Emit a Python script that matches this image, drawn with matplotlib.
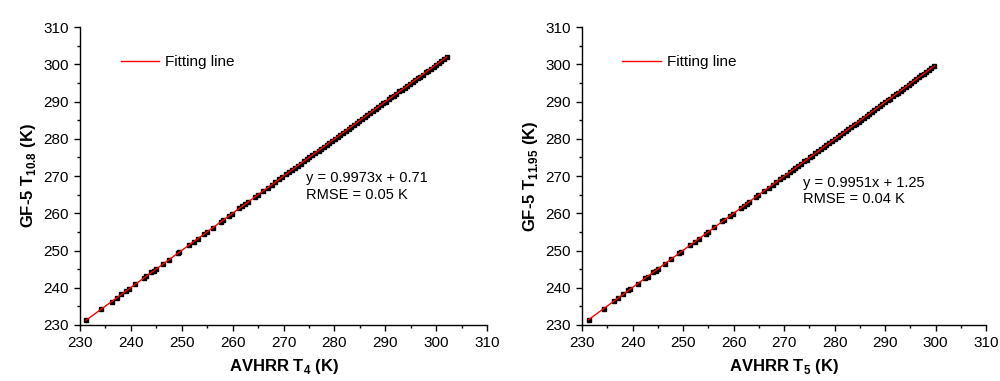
import matplotlib
matplotlib.use("Agg")
import matplotlib.pyplot as plt
import numpy as np
from matplotlib.ticker import MultipleLocator

plt.rcParams['font.family'] = ['Liberation Sans', 'DejaVu Sans']
plt.rcParams['mathtext.fontset'] = 'custom'
plt.rcParams['mathtext.rm'] = 'Liberation Sans'
plt.rcParams['mathtext.bf'] = 'Liberation Sans:bold'

# AVHRR T4 vs GF-5 T10.8
x_t4 = [231.2, 234.2, 236.2, 237.2, 238.1, 239.1, 239.6, 240.9, 242.5, 243.0,
        244.0, 244.5, 245.0, 246.3, 247.5, 249.2, 249.5, 251.4, 252.4, 253.2,
        254.4, 255.0, 256.1, 257.7, 258.2, 259.3, 259.8, 261.3, 261.9, 262.5,
        263.0, 264.4, 264.9, 266.0, 266.9, 267.7, 268.4, 269.2, 269.8, 270.5,
        271.1, 271.6, 272.2, 272.9, 273.4, 274.0, 274.6, 275.1, 275.7, 276.2,
        276.9, 277.4, 278.0, 278.5, 279.0, 279.6, 280.1, 280.7, 281.2, 281.7,
        282.3, 282.8, 283.3, 283.9, 284.4, 284.9, 285.4, 286.0, 286.5, 287.0,
        287.5, 288.1, 288.6, 289.1, 289.6, 290.1, 290.7, 291.2, 291.7, 292.2,
        292.8, 293.3, 293.8, 294.3, 294.8, 295.4, 295.9, 296.4, 296.9, 297.4,
        298.0, 298.5, 299.0, 299.5, 300.0, 300.5, 301.0, 301.5, 302.1]
y_t108 = [231.3, 234.3, 236.3, 237.3, 238.2, 239.2, 239.7, 241.0, 242.6, 243.1,
          244.1, 244.6, 245.1, 246.4, 247.5, 249.2, 249.5, 251.4, 252.4, 253.2,
          254.4, 255.0, 256.1, 257.7, 258.2, 259.3, 259.8, 261.3, 261.9, 262.5,
          263.0, 264.4, 264.9, 266.0, 266.9, 267.7, 268.4, 269.2, 269.8, 270.5,
          271.0, 271.5, 272.1, 272.8, 273.3, 273.9, 274.5, 275.0, 275.6, 276.1,
          276.8, 277.3, 277.9, 278.4, 278.9, 279.5, 280.0, 280.6, 281.1, 281.6,
          282.2, 282.7, 283.2, 283.8, 284.3, 284.8, 285.3, 285.9, 286.4, 286.9,
          287.4, 288.0, 288.5, 289.0, 289.5, 290.0, 290.6, 291.1, 291.6, 292.1,
          292.7, 293.2, 293.7, 294.2, 294.7, 295.3, 295.8, 296.2, 296.7, 297.2,
          297.8, 298.3, 298.8, 299.3, 299.8, 300.3, 300.8, 301.3, 301.9]

# AVHRR T5 vs GF-5 T11.95
x_t5 = [231.3, 234.3, 236.3, 237.2, 238.2, 239.2, 239.6, 241.0, 242.5, 243.0,
        244.1, 244.6, 245.0, 246.4, 247.6, 249.2, 249.6, 251.4, 252.4, 253.2,
        254.5, 255.0, 256.2, 257.8, 258.2, 259.3, 259.9, 261.4, 262.0, 262.6,
        263.1, 264.4, 264.9, 266.1, 267.0, 267.8, 268.5, 269.2, 269.9, 270.5,
        271.1, 271.7, 272.2, 272.8, 273.4, 274.0, 274.5, 275.1, 275.6, 276.2,
        276.8, 277.3, 277.9, 278.4, 278.9, 279.5, 280.0, 280.6, 281.1, 281.6,
        282.2, 282.7, 283.2, 283.8, 284.3, 284.8, 285.3, 285.9, 286.4, 286.9,
        287.4, 287.9, 288.5, 289.0, 289.5, 290.0, 290.5, 291.0, 291.6, 292.1,
        292.6, 293.1, 293.6, 294.1, 294.7, 295.2, 295.7, 296.2, 296.7, 297.2,
        297.7, 298.2, 298.7, 299.2, 299.8]
y_t1195 = [231.4, 234.4, 236.4, 237.3, 238.3, 239.3, 239.7, 241.1, 242.6, 243.0,
           244.1, 244.6, 245.0, 246.4, 247.6, 249.2, 249.6, 251.4, 252.4, 253.2,
           254.5, 255.0, 256.2, 257.8, 258.2, 259.3, 259.9, 261.4, 262.0, 262.6,
           263.0, 264.3, 264.8, 266.0, 266.9, 267.7, 268.4, 269.1, 269.8, 270.4,
           271.0, 271.6, 272.1, 272.7, 273.3, 273.9, 274.4, 275.0, 275.5, 276.1,
           276.7, 277.2, 277.8, 278.3, 278.8, 279.4, 279.9, 280.5, 281.0, 281.5,
           282.1, 282.6, 283.1, 283.6, 284.1, 284.6, 285.1, 285.7, 286.2, 286.7,
           287.2, 287.7, 288.3, 288.8, 289.3, 289.8, 290.3, 290.8, 291.4, 291.9,
           292.4, 292.9, 293.4, 293.9, 294.5, 295.0, 295.5, 296.0, 296.5, 297.0,
           297.5, 298.0, 298.5, 299.0, 299.6]

fits = [(0.9973, 0.71, 0.05), (0.9951, 1.25, 0.04)]
ylabels = [r'GF-5 T$_{\mathbf{10.8}}$ (K)', r'GF-5 T$_{\mathbf{11.95}}$ (K)']
xlabels = [r'AVHRR T$_{\mathbf{4}}$ (K)', r'AVHRR T$_{\mathbf{5}}$ (K)']
text_pos = [(0.555, 0.465), (0.547, 0.45)]

fig = plt.figure(figsize=(10, 3.81), dpi=100)
axes = [fig.add_axes([0.080, 0.147, 0.407, 0.782]),
        fig.add_axes([0.582, 0.147, 0.404, 0.782])]

data = [(x_t4, y_t108), (x_t5, y_t1195)]
for i, ax in enumerate(axes):
    xs, ys = data[i]
    a, b, rmse = fits[i]
    ax.plot(xs, ys, 's', color='black', markersize=3.2, zorder=2)
    xl = np.array([min(xs), max(xs)])
    ax.plot(xl, a * xl + b, '-', color='red', lw=1, label='Fitting line', zorder=3)

    ax.set_xlim(230, 310)
    ax.set_ylim(230, 310)
    ax.xaxis.set_major_locator(MultipleLocator(10))
    ax.xaxis.set_minor_locator(MultipleLocator(5))
    ax.yaxis.set_major_locator(MultipleLocator(10))
    ax.yaxis.set_minor_locator(MultipleLocator(5))
    ax.spines['top'].set_visible(False)
    ax.spines['right'].set_visible(False)
    for s in ['left', 'bottom']:
        ax.spines[s].set_linewidth(1.0)
    ax.tick_params(which='major', direction='out', length=4.5, width=1.0, labelsize=11)
    ax.tick_params(which='minor', direction='out', length=2.5, width=1.0)

    ax.set_xlabel(xlabels[i], fontsize=12, fontweight='bold', labelpad=5)
    ax.set_ylabel(ylabels[i], fontsize=12, fontweight='bold', labelpad=4)

    ax.legend(loc='center left', bbox_to_anchor=(0.085, 0.883), frameon=False,
              fontsize=11, handlelength=2.5, handletextpad=0.4, borderaxespad=0)
    ax.text(text_pos[i][0], text_pos[i][1],
            'y = %.4fx + %.2f\nRMSE = %.2f K' % (a, b, rmse),
            transform=ax.transAxes, fontsize=10.5, va='center', ha='left',
            linespacing=1.25)

fig.savefig('out.png', dpi=100)
